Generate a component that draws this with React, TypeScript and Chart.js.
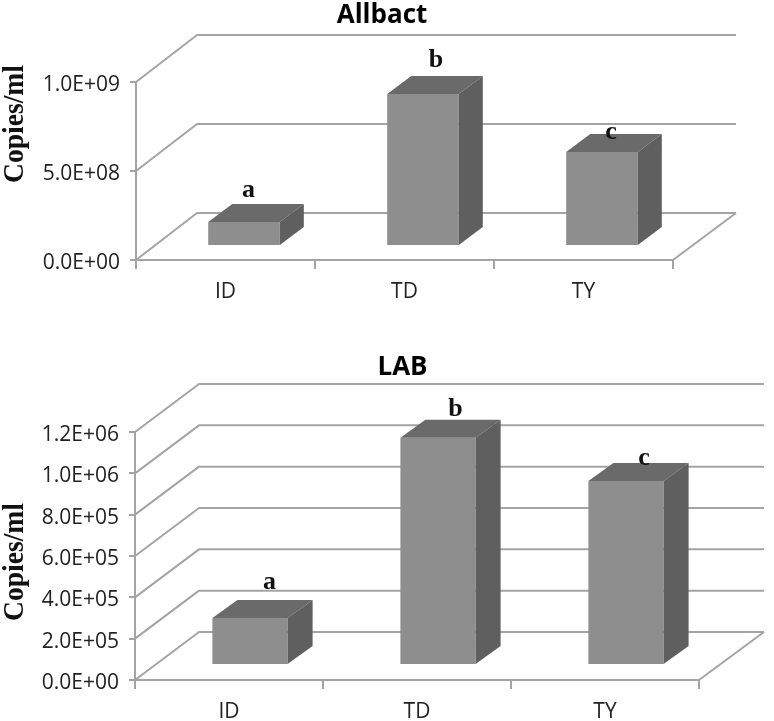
import React, { useEffect, useRef } from "react";
import { Chart, registerables } from "chart.js";

Chart.register(...registerables);

const categories = ["ID", "TD", "TY"];
const allbactValues = [1.35e8, 8.54e8, 5.28e8];
const labValues = [2.27e5, 1.1e6, 8.9e5];
const significanceLetters = ["a", "b", "c"];
const allbactMax = 1e9;
const allbactStep = 5e8;
const labMax = 1.2e6;
const labStep = 2e5;

const AXIS = "#a4a4a4";
const FRONT = "#8e8e8e";
const TOP = "#6a6a6a";
const SIDE = "#5f5f5f";

function sci(v: number): string {
  if (v === 0) return "0.0E+00";
  const [m, e] = v.toExponential(1).split("e");
  const n = Math.abs(Number(e));
  return `${m}E+${n < 10 ? "0" + n : n}`;
}

type Geo = {
  title: string;
  titleX: number;
  titleY: number;
  yTitleX: number;
  yTitleY: number;
  wallDx: number;
  wallDy: number;
  wallExtra: number;
  shiftX: number;
  shiftY: number;
  depthX: number;
  depthY: number;
  letterOffsets: [number, number][];
};

const depthPlugin = {
  id: "depth3d",
  beforeDatasetsDraw(chart: any, _a: any, o: Geo) {
    const { ctx, chartArea, scales } = chart;
    const { left, right, bottom } = chartArea;
    ctx.save();
    ctx.strokeStyle = AXIS;
    ctx.lineWidth = 2;
    ctx.lineJoin = "round";
    for (const t of scales.y.ticks) {
      const y = scales.y.getPixelForValue(t.value);
      ctx.beginPath();
      ctx.moveTo(left, y);
      ctx.lineTo(left + o.wallDx, y + o.wallDy);
      ctx.lineTo(right + o.wallDx + o.wallExtra, y + o.wallDy);
      ctx.stroke();
    }
    ctx.beginPath();
    ctx.moveTo(right + o.wallDx + o.wallExtra, bottom + o.wallDy);
    ctx.lineTo(right, bottom);
    ctx.stroke();
    ctx.restore();
    ctx.save();
    ctx.translate(o.shiftX, o.shiftY);
  },
  afterDatasetsDraw(chart: any, _a: any, o: Geo) {
    const { ctx } = chart;
    const bars = chart.getDatasetMeta(0).data;
    for (const bar of bars) {
      const { x, y, base, width } = bar.getProps(["x", "y", "base", "width"], true);
      const l = x - width / 2;
      const r = x + width / 2;
      ctx.fillStyle = TOP;
      ctx.beginPath();
      ctx.moveTo(l, y);
      ctx.lineTo(l + o.depthX, y + o.depthY);
      ctx.lineTo(r + o.depthX, y + o.depthY);
      ctx.lineTo(r, y);
      ctx.closePath();
      ctx.fill();
      ctx.fillStyle = SIDE;
      ctx.beginPath();
      ctx.moveTo(r, y);
      ctx.lineTo(r + o.depthX, y + o.depthY);
      ctx.lineTo(r + o.depthX, base + o.depthY);
      ctx.lineTo(r, base);
      ctx.closePath();
      ctx.fill();
    }
    ctx.restore();

    ctx.save();
    ctx.fillStyle = "#111";
    ctx.textAlign = "center";
    ctx.textBaseline = "middle";
    ctx.font = "bold 26px 'Liberation Serif'";
    bars.forEach((bar: any, i: number) => {
      const [ox, oy] = o.letterOffsets[i];
      const { x, y } = bar.getProps(["x", "y"], true);
      ctx.fillText(significanceLetters[i], x + o.shiftX + ox, y + o.shiftY + oy);
    });
    ctx.font = "bold 26px 'Open Sans'";
    ctx.fillStyle = "#000";
    ctx.fillText(o.title, o.titleX, o.titleY);
    ctx.translate(o.yTitleX, o.yTitleY);
    ctx.rotate(-Math.PI / 2);
    ctx.scale(0.92, 1);
    ctx.font = "bold 30px 'Liberation Serif'";
    ctx.fillStyle = "#111";
    ctx.fillText("Copies/ml", 0, 0);
    ctx.restore();
  },
};

type PanelProps = {
  top: number;
  height: number;
  values: number[];
  max: number;
  step: number;
  yWidth: number;
  padding: { top: number; right: number; bottom: number };
  geo: Geo;
};

function Panel({ top, height, values, max, step, yWidth, padding, geo }: PanelProps) {
  const ref = useRef<HTMLCanvasElement | null>(null);
  useEffect(() => {
    if (!ref.current) return;
    const tickFont = { family: "'Open Sans'", size: 21 };
    const chart = new Chart(ref.current, {
      type: "bar",
      data: {
        labels: categories,
        datasets: [
          {
            data: values,
            backgroundColor: FRONT,
            borderWidth: 0,
            categoryPercentage: 1,
            barPercentage: 0.4,
            clip: false,
          } as any,
        ],
      },
      options: {
        animation: false,
        responsive: false,
        layout: { padding: { left: 0, ...padding } },
        plugins: {
          legend: { display: false },
          title: { display: false },
          tooltip: { enabled: false },
          depth3d: geo,
        } as any,
        scales: {
          x: {
            afterFit: (s: any) => {
              s.height = 40;
            },
            border: { color: AXIS, width: 2 },
            grid: { drawOnChartArea: false, color: AXIS, lineWidth: 2, tickLength: 9 },
            ticks: { font: tickFont, color: "#222", padding: 10, maxRotation: 0 },
          },
          y: {
            min: 0,
            max,
            afterFit: (s: any) => {
              s.width = yWidth;
            },
            border: { color: AXIS, width: 2 },
            grid: { drawOnChartArea: false, color: AXIS, lineWidth: 2, tickLength: 6 },
            ticks: {
              stepSize: step,
              font: tickFont,
              color: "#222",
              padding: 10,
              labelOffset: 3,
              callback: (v: any) => sci(Number(v)),
            },
          },
        },
      },
      plugins: [depthPlugin],
    } as any);
    return () => chart.destroy();
  }, []);
  return (
    <canvas
      ref={ref}
      width={774}
      height={height}
      style={{ position: "absolute", left: 0, top, width: 774, height, filter: "blur(0.4px)" }}
    />
  );
}

export default function App() {
  return (
    <div
      style={{
        position: "fixed",
        left: 0,
        top: 0,
        width: 774,
        height: 721,
        overflow: "hidden",
        background: "#fff",
      }}
    >
      <Panel
        top={0}
        height={340}
        values={allbactValues}
        max={allbactMax}
        step={allbactStep}
        yWidth={136}
        padding={{ top: 82, right: 101, bottom: 40 }}
        geo={{
          title: "Allbact",
          titleX: 382,
          titleY: 16,
          yTitleX: 15,
          yTitleY: 124,
          wallDx: 61,
          wallDy: -47,
          wallExtra: 2,
          shiftX: 18.5,
          shiftY: -14,
          depthX: 24,
          depthY: -18,
          letterOffsets: [
            [4.5, -32],
            [13, -34],
            [9, -20],
          ],
        }}
      />
      <Panel
        top={340}
        height={381}
        values={labValues}
        max={labMax}
        step={labStep}
        yWidth={135}
        padding={{ top: 92, right: 75, bottom: 1 }}
        geo={{
          title: "LAB",
          titleX: 402.5,
          titleY: 28,
          yTitleX: 15,
          yTitleY: 222,
          wallDx: 64,
          wallDy: -48,
          wallExtra: 1,
          shiftX: 21,
          shiftY: -15,
          depthX: 25,
          depthY: -18,
          letterOffsets: [
            [19.5, -36],
            [17.5, -28],
            [18, -23],
          ],
        }}
      />
    </div>
  );
}
